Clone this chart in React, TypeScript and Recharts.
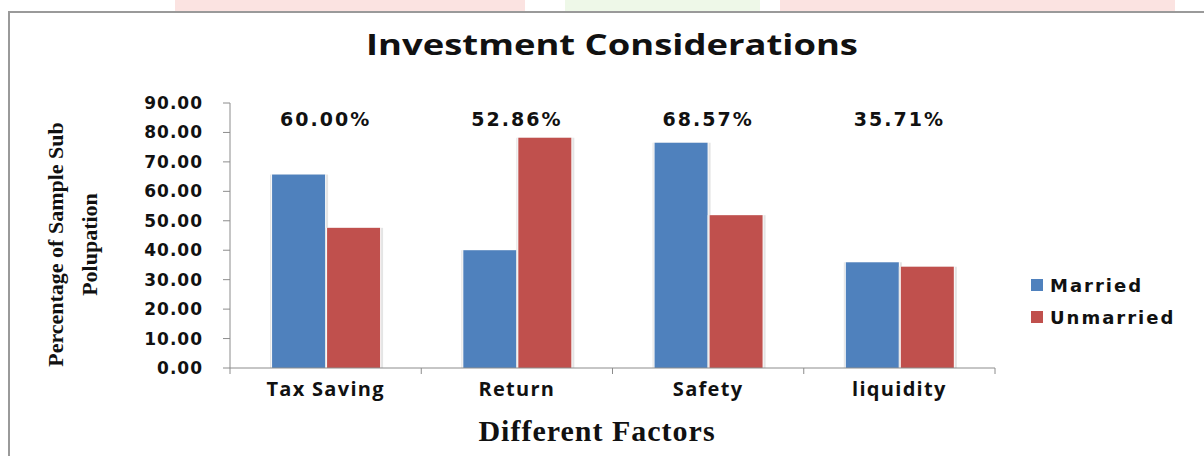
import { BarChart, Bar, XAxis, YAxis, Legend, Label } from "recharts"

const factors = ["Tax Saving", "Return", "Safety", "liquidity"]
const married = [65.7, 40.0, 76.5, 35.9]
const unmarried = [47.6, 78.2, 51.9, 34.4]
const overall = ["60.00%", "52.86%", "68.57%", "35.71%"]
const yTicks = [0, 10, 20, 30, 40, 50, 60, 70, 80, 90]
const seriesNames = ["Married", "Unmarried"]
const seriesColors = ["#4F81BD", "#C0504D"]

const data = factors.map((f, i) => ({
  factor: f,
  married: married[i],
  unmarried: unmarried[i],
}))

const W = 1204
const H = 456
const margin = { top: 103, right: 209, bottom: 8, left: 20 }
const yAxisW = 210
const xAxisH = 80
const plotW = W - margin.left - margin.right - yAxisW
const plotH = H - margin.top - margin.bottom - xAxisH
const band = plotW / factors.length

// category labels, boundary tick marks and the overall % above each group
const CategoryTick = (props: any) => {
  const { x, y, payload, index } = props
  const axisY = y - 14
  return (
    <g>
      <line x1={x - band / 2} x2={x - band / 2} y1={axisY} y2={axisY + 6} stroke="#8c8c8c" />
      {index === factors.length - 1 && (
        <line x1={x + band / 2} x2={x + band / 2} y1={axisY} y2={axisY + 6} stroke="#8c8c8c" />
      )}
      <text
        x={x}
        y={y}
        dy="0.71em"
        textAnchor="middle"
        fontFamily="'Open Sans'"
        fontWeight={700}
        fontSize={20}
        letterSpacing={1.3}
        fill="#111"
      >
        {payload.value}
      </text>
      <text
        x={x}
        y={axisY - plotH + 23}
        textAnchor="middle"
        fontFamily="'DejaVu Sans'"
        fontWeight={700}
        fontSize={19}
        letterSpacing={2}
        fill="#111"
      >
        {overall[index]}
      </text>
    </g>
  )
}

const ShadowBar = (props: any) => {
  const { x, y, width, height, fill } = props
  if (!height || height <= 0) return null
  return (
    <g>
      <rect x={x - 2} y={y} width={width + 5} height={height} fill="#e4e4e4" />
      <rect x={x - 1} y={y} width={width + 2} height={height} fill="#fafafa" />
      <rect x={x} y={y} width={width} height={height} fill={fill} />
    </g>
  )
}

const YTitle = (props: any) => {
  const { viewBox } = props
  const cy = viewBox.y + viewBox.height / 2 + 9
  const lines = ["Percentage of Sample Sub", "Polupation"]
  return (
    <g>
      {lines.map((l, i) => {
        const cx = 55 + i * 34
        return (
          <text
            key={i}
            x={cx}
            y={cy}
            transform={`rotate(-90 ${cx} ${cy})`}
            textAnchor="middle"
            dominantBaseline="central"
            fontFamily="'Liberation Serif'"
            fontWeight={700}
            fontSize={22}
            fill="#111"
          >
            {l}
          </text>
        )
      })}
    </g>
  )
}

const XTitle = (props: any) => {
  const { viewBox } = props
  return (
    <text
      x={597}
      y={viewBox.y + 73}
      textAnchor="middle"
      fontFamily="'Liberation Serif'"
      fontWeight={700}
      fontSize={30}
      letterSpacing={1}
      fill="#111"
    >
      Different Factors
    </text>
  )
}

const LegendBox = () => (
  <div>
    {seriesNames.map((n, i) => (
      <div key={n} style={{ display: "flex", alignItems: "center", height: 32 }}>
        <span style={{ width: 12, height: 12, background: seriesColors[i], marginRight: 7 }} />
        <span
          style={{
            fontFamily: "'DejaVu Sans'",
            fontWeight: 700,
            fontSize: 18,
            letterSpacing: 2,
            color: "#111",
          }}
        >
          {n}
        </span>
      </div>
    ))}
  </div>
)

export default function App() {
  return (
    <div style={{ position: "absolute", left: 0, top: 0, width: W, height: H, background: "#fff", overflow: "hidden" }}>
      {/* faint scanned header strip */}
      <div style={{ position: "absolute", left: 175, top: 0, width: 350, height: 11, background: "#fbe3e1" }} />
      <div style={{ position: "absolute", left: 565, top: 0, width: 195, height: 11, background: "#eef8e8" }} />
      <div style={{ position: "absolute", left: 780, top: 0, width: 395, height: 11, background: "#fbe3e1" }} />
      <div
        style={{
          position: "absolute",
          left: 8,
          top: 11,
          width: W,
          height: H,
          borderLeft: "2px solid #9a9a9a",
          borderTop: "2px solid #9a9a9a",
        }}
      />
      <div
        style={{
          position: "absolute",
          left: 10,
          width: W,
          top: 30,
          textAlign: "center",
          fontFamily: "'Open Sans'",
          fontWeight: 700,
          fontSize: 28,
          lineHeight: "28px",
          color: "#111",
          transform: "scaleX(1.3)",
          transformOrigin: "center",
        }}
      >
        Investment Considerations
      </div>
      <div style={{ position: "absolute", left: 0, top: 0 }}>
        <BarChart width={W} height={H} data={data} margin={margin} barCategoryGap="22%" barGap={2}>
          <XAxis
            dataKey="factor"
            height={xAxisH}
            axisLine={{ stroke: "#8c8c8c" }}
            tickLine={false}
            tickSize={6}
            tickMargin={8}
            tick={<CategoryTick />}
            interval={0}
          >
            <Label content={<XTitle />} />
          </XAxis>
          <YAxis
            width={yAxisW}
            domain={[0, 90]}
            ticks={yTicks}
            interval={0}
            tickFormatter={(v: number) => v.toFixed(2)}
            axisLine={{ stroke: "#8c8c8c" }}
            tickLine={{ stroke: "#8c8c8c" }}
            tickSize={7}
            tickMargin={20}
            tick={{ fontFamily: "'DejaVu Sans'", fontWeight: 700, fontSize: 17, letterSpacing: 1, fill: "#111" }}
          >
            <Label content={<YTitle />} />
          </YAxis>
          <Legend
            layout="vertical"
            align="center"
            verticalAlign="middle"
            content={<LegendBox />}
            wrapperStyle={{ left: 1031, top: 269, width: 172 }}
          />
          <Bar dataKey="married" name={seriesNames[0]} fill={seriesColors[0]} shape={<ShadowBar />} isAnimationActive={false} />
          <Bar dataKey="unmarried" name={seriesNames[1]} fill={seriesColors[1]} shape={<ShadowBar />} isAnimationActive={false} />
        </BarChart>
      </div>
    </div>
  )
}
